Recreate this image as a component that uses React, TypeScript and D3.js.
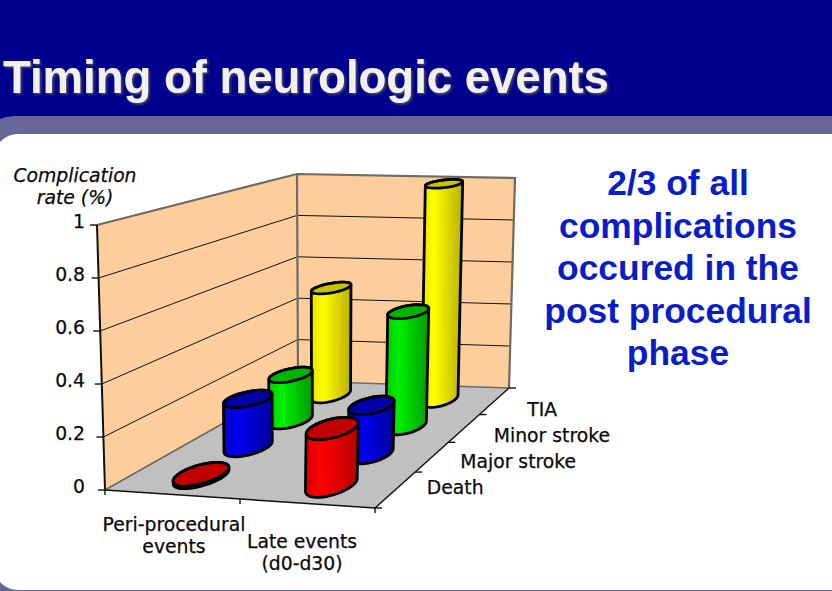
import React from "react";
import * as d3 from "d3";

const titleText = "Timing of neurologic events";
const noteLines = ["2/3 of all", "complications", "occured in the", "post procedural", "phase"];
const categories = ["Peri-procedural", "Late events"];
const categoryLabels = [["Peri-procedural", "events"], ["Late events", "(d0-d30)"]];
const seriesNames = ["Death", "Major stroke", "Minor stroke", "TIA"];
const periValues = [0.01, 0.2, 0.2, 0.5];
const lateValues = [0.22, 0.2, 0.5, 1.0];
const yTicks = [0, 0.2, 0.4, 0.6, 0.8, 1];
const yLabels = ["0", "0.2", "0.4", "0.6", "0.8", "1"];

const bodyColors = [
  ["#d80000", "#ff0000", "#b80000"],
  ["#0000c8", "#0000f0", "#00009c"],
  ["#00c800", "#00f000", "#009c00"],
  ["#e8e000", "#ffff00", "#b8b000"],
];
const topColors = ["#c00000", "#0000a8", "#00b400", "#c8c400"];

// corners of the chart box: floor (f) and ceiling (c)
const fl = { fl: [105, 490], fr: [375, 508], bl: [298, 381], br: [509, 388] };
const cl = { fl: [97, 225], fr: [383, 243], bl: [297, 174], br: [515, 178] };

const mix = (a: number, b: number, t: number) => a + (b - a) * t;
const corner = (c: any, u: number, v: number) => [
  mix(mix(c.fl[0], c.fr[0], u), mix(c.bl[0], c.br[0], u), v),
  mix(mix(c.fl[1], c.fr[1], u), mix(c.bl[1], c.br[1], u), v),
];
// depth is foreshortened, the original chart has real perspective
const depth = d3.scalePow().exponent(0.87).domain([0, 1]).range([0, 1]);
// u along categories, v into the depth, w up the value axis
const project = (u: number, v: number, w: number): [number, number] => {
  const a = corner(fl, u, depth(v));
  const b = corner(cl, u, depth(v));
  return [mix(a[0], b[0], w), mix(a[1], b[1], w)];
};

const xScale = d3.scaleBand<string>().domain(categories).range([0, 1]);
const zScale = d3.scaleBand<string>().domain(seriesNames).range([0, 1]);
const yScale = d3.scaleLinear().domain([0, 1]).range([0, 1]);
const labelY = d3.scaleLinear().domain([0, 3]).range([494, 416]);

const line = d3.line();
const closed = d3.line().curve(d3.curveLinearClosed);
const radiusU = 0.078;
const radiusV = 0.09;
const angles = d3.range(0, 360, 10).map((d) => (d * Math.PI) / 180);

const ring = (u: number, v: number, w: number) => {
  const shrink = 1.04 - 0.18 * v;
  return angles.map((t) =>
    project(u + shrink * radiusU * Math.cos(t), v + shrink * radiusV * Math.sin(t), w)
  );
};

const sans = "'Liberation Sans', Arial, sans-serif";
const labelFont = "'DejaVu Sans', Verdana, sans-serif";
const wallStroke = "#6f6a63";

const Cylinder = ({ cat, si, value }: { cat: string; si: number; value: number }) => {
  const u = (xScale(cat) as number) + xScale.bandwidth() / 2;
  const v = (zScale(seriesNames[si]) as number) + zScale.bandwidth() / 2;
  const w = yScale(value);
  const base = ring(u, v, 0);
  const top = ring(u, v, w);
  const hull = d3.polygonHull([...base, ...top]) as [number, number][];
  return (
    <g stroke="#000" strokeWidth={2.8} strokeLinejoin="round">
      <path d={closed(hull) as string} fill={`url(#body${si})`} />
      <path d={closed(top) as string} fill={topColors[si]} />
    </g>
  );
};

export default function App() {
  const bl0 = project(0, 1, 0);
  return (
    <svg
      width={832}
      height={591}
      style={{ position: "fixed", left: 0, top: 0, display: "block", background: "#00008f" }}
    >
      <defs>
        {bodyColors.map((c, i) => (
          <linearGradient key={i} id={`body${i}`} x1="0" x2="1" y1="0" y2="0">
            <stop offset="0" stopColor={c[0]} />
            <stop offset="0.3" stopColor={c[1]} />
            <stop offset="1" stopColor={c[2]} />
          </linearGradient>
        ))}
        <filter id="shadow" x="-5%" y="-10%" width="110%" height="130%">
          <feDropShadow dx="1.5" dy="1.5" stdDeviation="1" floodColor="#555" />
        </filter>
      </defs>

      {/* header and panel */}
      <rect x={-25} y={116} width={920} height={520} rx={40} fill="#666699" />
      <rect x={-6} y={134} width={900} height={456} rx={24} fill="#fff" />
      <text
        x={3}
        y={93}
        fill="#f0f0f0"
        fontFamily={sans}
        fontWeight={700}
        fontSize={45.5}
        filter="url(#shadow)"
      >
        {titleText}
      </text>

      {/* walls and floor */}
      <path
        d={closed([project(0, 0, 0), project(0, 0, 1), project(0, 1, 1), bl0]) as string}
        fill="#fdcd9b"
      />
      <path
        d={closed([bl0, project(0, 1, 1), project(1, 1, 1), project(1, 1, 0)]) as string}
        fill="#fdcd9b"
      />
      <path
        d={closed([project(0, 0, 0), project(1, 0, 0), project(1, 1, 0), bl0]) as string}
        fill="#c0c0c0"
      />
      {yTicks.slice(1, -1).map((t) => (
        <path
          key={t}
          d={line([project(0, 0, yScale(t)), project(0, 1, yScale(t)), project(1, 1, yScale(t))]) as string}
          fill="none"
          stroke="#111"
          strokeWidth={1}
        />
      ))}
      <path
        d={line([project(0, 0, 1), project(0, 1, 1), project(1, 1, 1), project(1, 1, 0)]) as string}
        fill="none"
        stroke={wallStroke}
        strokeWidth={2.2}
      />
      <path d={line([project(0, 1, 1), bl0]) as string} stroke={wallStroke} strokeWidth={2.2} />
      <path
        d={line([project(0, 0, 0), bl0, project(1, 1, 0)]) as string}
        fill="none"
        stroke={wallStroke}
        strokeWidth={1.6}
      />

      {/* axes */}
      <path d={line([project(0, 0, 0), project(0, 0, 1)]) as string} stroke="#111" strokeWidth={2} />
      <path
        d={line([project(0, 0, 0), project(1, 0, 0), project(1, 1, 0)]) as string}
        fill="none"
        stroke="#111"
        strokeWidth={1.4}
      />
      {yTicks.map((t) => {
        const [x, y] = project(0, 0, yScale(t));
        return <path key={t} d={line([[x - 7, y], [x, y]]) as string} stroke="#111" strokeWidth={1.4} />;
      })}
      {[0, 0.5, 1].map((u) => {
        const [x, y] = project(u, 0, 0);
        return <path key={u} d={line([[x, y], [x, y + 5]]) as string} stroke="#111" strokeWidth={1.4} />;
      })}
      {[0, 0.25, 0.5, 0.75, 1].map((v) => {
        const [x, y] = project(1, v, 0);
        return <path key={v} d={line([[x, y], [x + 7, y]]) as string} stroke="#111" strokeWidth={1.4} />;
      })}

      {/* cylinders, back row first */}
      {d3.range(seriesNames.length - 1, -1, -1).map((si) => (
        <g key={si}>
          <Cylinder cat={categories[0]} si={si} value={periValues[si]} />
          <Cylinder cat={categories[1]} si={si} value={lateValues[si]} />
        </g>
      ))}

      {/* axis text */}
      <g fontFamily={labelFont} fontSize={18.8} fill="#0a0a0a" stroke="#0a0a0a" strokeWidth={0.25}>
        {yTicks.map((t, i) => (
          <text key={t} x={85} y={project(0, 0, yScale(t))[1] + 3} textAnchor="end">
            {yLabels[i]}
          </text>
        ))}
        {seriesNames.map((s, i) => (
          <text key={s} x={corner(fl, 1, zScale.bandwidth() * (i + 0.5))[0] + 35} y={labelY(i)}>
            {s}
          </text>
        ))}
        {categoryLabels.map((lines, i) =>
          lines.map((l, j) => (
            <text key={l} x={i === 0 ? 174 : 302} y={(i === 0 ? 531 : 548) + j * 22} textAnchor="middle">
              {l}
            </text>
          ))
        )}
        <text x={75} y={182} textAnchor="middle" fontStyle="italic">
          Complication
        </text>
        <text x={75} y={204} textAnchor="middle" fontStyle="italic">
          rate (%)
        </text>
      </g>

      {/* side note */}
      {noteLines.map((l, i) => (
        <text
          key={l}
          x={678}
          y={195 + i * 42.5}
          textAnchor="middle"
          fill="#0a1ec8"
          fontFamily={sans}
          fontWeight={700}
          fontSize={35.4}
        >
          {l}
        </text>
      ))}
    </svg>
  );
}
